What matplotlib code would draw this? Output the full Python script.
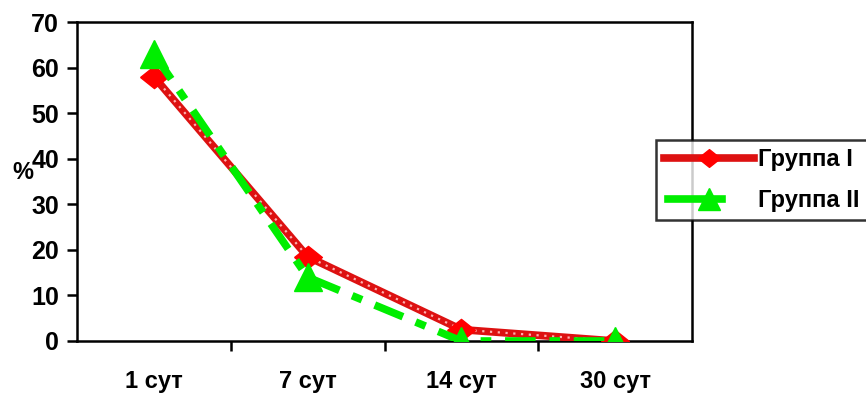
import matplotlib
matplotlib.use("Agg")
import matplotlib.pyplot as plt
from matplotlib.lines import Line2D
from matplotlib.legend_handler import HandlerLine2D

categories = ["1 сут", "7 сут", "14 сут", "30 сут"]
group1 = [58, 18.5, 2.5, 0]
group2 = [63, 14, 0, 0]
series_names = ["Группа I", "Группа II"]

plt.rcParams["font.family"] = ["Liberation Sans", "DejaVu Sans"]
plt.rcParams["font.weight"] = "bold"


class ShortHandler(HandlerLine2D):
    """Legend line that stops just past its marker."""

    def create_artists(self, legend, orig_handle, xdescent, ydescent,
                       width, height, fontsize, trans):
        artists = super().create_artists(legend, orig_handle, xdescent, ydescent,
                                         width, height, fontsize, trans)
        line = artists[0]
        xd = line.get_xdata()
        if len(xd) == 3:
            mid = xd[1]
            line.set_xdata([xd[0] + 0.045 * width, mid, mid + 0.145 * width])
        return artists


fig = plt.figure(figsize=(8.66, 3.94), dpi=100)
ax = fig.add_axes([77 / 866, 1 - 341 / 394, (692 - 77) / 866, (341 - 22) / 394])

x = range(len(categories))

# slightly flattened diamond
diamond = [(-1, 0), (0, 0.8), (1, 0), (0, -0.8), (-1, 0)]

# group I: thick red line with a light stipple running along it
ax.plot(x, group1, color="#dd1111", lw=5.5, solid_capstyle="butt", zorder=3)
ax.plot(x, group1, color="#ffb0b0", lw=1.6, ls=(0, (1, 2.5)), zorder=3)
ax.plot(x, group1, ls="none", marker=diamond, ms=20, color="red", mec="red", zorder=4)

# group II: bright green dash-dot
ax.plot(x, group2, color="#00ee00", lw=5.5, ls=(0, (4, 1.8, 1.4, 1.8)),
        dash_capstyle="butt", marker="^", ms=20, mec="#00ee00", zorder=5)

ax.set_xlim(-0.5, 3.5)
ax.set_ylim(0, 70)
ax.set_yticks(range(0, 71, 10))
ax.set_xticks([0.5, 1.5, 2.5])
ax.set_xticklabels([])
ax.tick_params(axis="x", length=7, width=1.8, direction="out")
ax.tick_params(axis="y", length=7, width=1.8, direction="out", labelsize=18, pad=6)
for i, c in enumerate(categories):
    ax.text(i, -8.8, c, ha="center", va="center", fontsize=17, fontweight="bold")

for s in ax.spines.values():
    s.set_linewidth(1.8)
    s.set_color("black")

ax.text(-0.85, 37, "%", ha="center", va="center", fontsize=17, fontweight="bold",
        clip_on=False)

red_handle = Line2D([], [], color="#dd1111", lw=5.5, marker=diamond, ms=16,
                    mfc="red", mec="red")
green_handle = Line2D([], [], color="#00ee00", lw=5.5, marker="^", ms=16, mec="#00ee00")
# legend box runs off the right edge of the figure
leg = fig.legend([red_handle, green_handle], series_names, loc="upper left",
                 bbox_to_anchor=(656 / 866, 1 - 140 / 394, 0.27, 0), mode="expand",
                 frameon=True, fancybox=False, edgecolor="black", fontsize=17,
                 handlelength=3.8, handletextpad=0.15, borderpad=0.35,
                 labelspacing=0.75, borderaxespad=0,
                 handler_map={green_handle: ShortHandler()})
leg.get_frame().set_linewidth(1.8)
for t in leg.get_texts():
    t.set_fontweight("bold")

fig.savefig("out.png", dpi=100)
